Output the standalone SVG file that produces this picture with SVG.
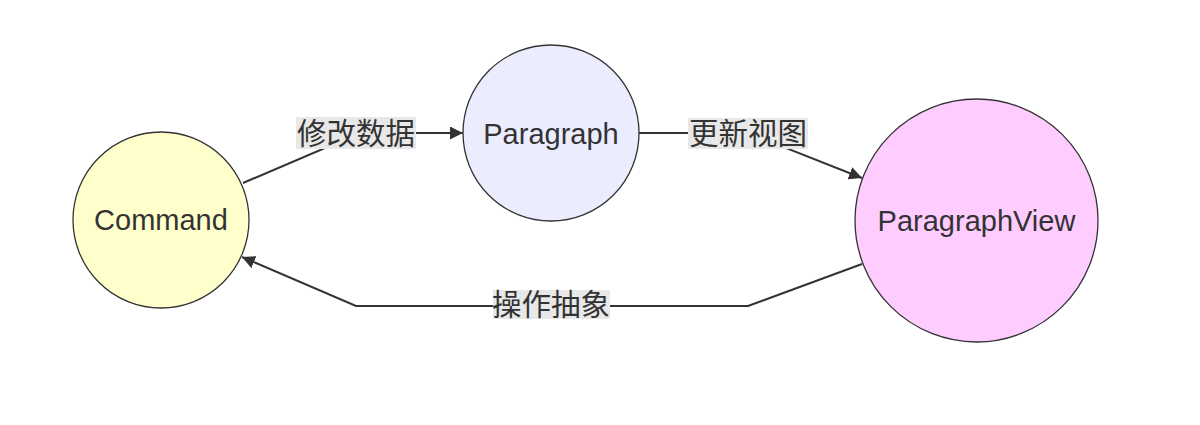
<svg xmlns="http://www.w3.org/2000/svg" width="1200" height="425" viewBox="0 0 1200 425">
<style>
.node circle{stroke:#333;stroke-width:1.3}
.nt{font-family:"Liberation Sans",Arial,sans-serif;font-size:29px;fill:#333;text-anchor:middle}
.edge{fill:none;stroke:#333;stroke-width:2}
.lbg{fill:#e8e8e8}
.lt{font-family:"Liberation Sans","Noto Sans CJK SC",sans-serif;font-size:29.5px;fill:#333;text-anchor:middle}
</style>
<defs>
<marker id="arr" viewBox="0 0 10 10" refX="10" refY="5" markerWidth="6.5" markerHeight="6.5" orient="auto" markerUnits="strokeWidth">
<path d="M0,0 L10,5 L0,10 z" fill="#333"/>
</marker>
</defs>
<rect width="1200" height="425" fill="#fff"/>
<g id="connectors">
<path class="edge" d="M243,183 L360,133 L463,133" marker-end="url(#arr)"/>
<path class="edge" d="M639,133 L748,133 L862,178" marker-end="url(#arr)"/>
<path class="edge" d="M862,264 L748,306 L356,306 L242,257" marker-end="url(#arr)"/>
<rect class="lbg" x="296" y="117" width="120" height="32"/>
<text class="lt" x="356" y="143.5">修改数据</text>
<rect class="lbg" x="688" y="118" width="120" height="31"/>
<text class="lt" x="748" y="143.5">更新视图</text>
<rect class="lbg" x="493" y="290" width="117" height="29"/>
<text class="lt" x="551" y="315">操作抽象</text>
</g>
<g id="command" class="node">
<circle cx="161" cy="220" r="88" fill="#ffffcc"/>
<text class="nt" x="161" y="230">Command</text>
</g>
<g id="paragraph" class="node">
<circle cx="551" cy="133" r="88" fill="#ececff"/>
<text class="nt" x="551" y="144">Paragraph</text>
</g>
<g id="paragraphview" class="node">
<circle cx="976.5" cy="220.5" r="121.5" fill="#ffccff"/>
<text class="nt" x="976.5" y="231">ParagraphView</text>
</g>
</svg>
